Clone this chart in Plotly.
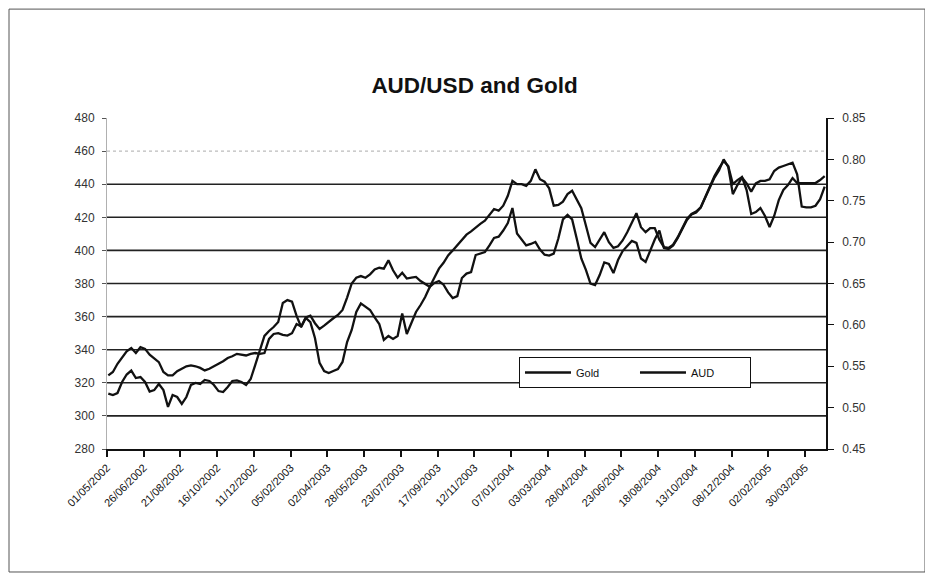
import plotly.graph_objects as go
import pandas as pd

# weekly closes (first week ending 03/05/2002)
gold = [
    313.5, 312.6, 313.8, 320.5, 325.0, 327.4, 322.9, 323.5, 320.5, 314.7,
    315.6, 319.3, 315.6, 305.4, 312.6, 311.4, 307.2, 311.4, 318.7, 319.9,
    319.3, 321.7, 321.1, 318.7, 315.0, 314.4, 317.5, 321.1, 321.4, 320.5,
    318.7, 322.3, 330.8, 339.8, 348.3, 351.3, 353.7, 356.7, 368.2, 370.0,
    369.1, 360.4, 353.7, 359.2, 356.7, 347.1, 332.0, 327.1, 325.9, 327.1,
    328.3, 332.6, 344.6, 351.9, 362.8, 368.0, 366.0, 364.0, 359.5, 355.5,
    345.9, 348.3, 346.5, 348.3, 361.9, 349.5, 356.1, 362.8, 367.0, 371.8,
    377.9, 380.3, 381.5, 379.3, 374.6, 371.2, 372.4, 383.3, 386.0, 386.9,
    397.2, 398.2, 399.0, 403.0, 407.5, 408.3, 412.0, 416.5, 425.6, 410.2,
    406.6, 403.0, 403.9, 405.1, 400.5, 397.4, 396.9, 398.1, 407.2, 418.7,
    421.4, 418.7, 407.2, 395.1, 388.2, 380.0, 379.1, 385.1, 392.7, 391.8,
    386.3, 394.2, 399.6, 403.0, 405.7, 404.5, 395.1, 393.0, 399.6, 406.6,
    412.0, 401.4, 400.8, 403.0, 407.5, 412.6, 418.4, 421.7, 422.9, 425.9,
    432.3, 439.5, 444.9, 449.8, 454.0, 451.0, 440.1, 442.5, 444.3, 436.5,
    422.0, 423.2, 425.6, 420.8, 414.1, 420.8, 430.4, 436.5, 439.5, 443.7,
    440.7, 440.7, 440.7, 440.7, 440.7, 442.5, 444.9,
]

aud = [
    0.539, 0.543, 0.553, 0.561, 0.568, 0.572, 0.566, 0.573, 0.571, 0.564,
    0.560, 0.555, 0.543, 0.539, 0.539, 0.544, 0.547, 0.550, 0.551, 0.550,
    0.548, 0.545, 0.547, 0.550, 0.552, 0.556, 0.560, 0.562, 0.565, 0.564,
    0.563, 0.565, 0.566, 0.565, 0.566, 0.583, 0.589, 0.590, 0.588, 0.587,
    0.590, 0.601, 0.598, 0.609, 0.611, 0.602, 0.595, 0.599, 0.604, 0.608,
    0.612, 0.618, 0.633, 0.650, 0.657, 0.659, 0.657, 0.661, 0.667, 0.669,
    0.668, 0.678, 0.666, 0.657, 0.663, 0.656, 0.657, 0.658, 0.653, 0.650,
    0.646, 0.657, 0.668, 0.675, 0.684, 0.690, 0.696, 0.703, 0.709, 0.713,
    0.718, 0.722, 0.726, 0.733, 0.740, 0.738, 0.744, 0.756, 0.774, 0.770,
    0.770, 0.768, 0.774, 0.788, 0.776, 0.773, 0.765, 0.744, 0.745, 0.749,
    0.758, 0.762, 0.751, 0.741, 0.720, 0.699, 0.694, 0.703, 0.712, 0.700,
    0.693, 0.695, 0.702, 0.712, 0.724, 0.735, 0.718, 0.712, 0.717, 0.717,
    0.703, 0.694, 0.693, 0.697, 0.706, 0.717, 0.728, 0.734, 0.737, 0.742,
    0.754, 0.768, 0.778, 0.787, 0.800, 0.791, 0.758, 0.769, 0.778, 0.771,
    0.761, 0.771, 0.774, 0.774, 0.776, 0.786, 0.790, 0.792, 0.794, 0.796,
    0.782, 0.743, 0.742, 0.742, 0.744, 0.752, 0.767,
]

dates = pd.date_range('2002-05-03', periods=len(gold), freq='7D')

tick_dates = [
    '2002-05-01', '2002-06-26', '2002-08-21', '2002-10-16', '2002-12-11',
    '2003-02-05', '2003-04-02', '2003-05-28', '2003-07-23', '2003-09-17',
    '2003-11-12', '2004-01-07', '2004-03-03', '2004-04-28', '2004-06-23',
    '2004-08-18', '2004-10-13', '2004-12-08', '2005-02-02', '2005-03-30',
]
tick_labels = [pd.Timestamp(d).strftime('%d/%m/%Y') for d in tick_dates]

gold_ticks = [280, 300, 320, 340, 360, 380, 400, 420, 440, 460, 480]
aud_ticks = [0.45, 0.50, 0.55, 0.60, 0.65, 0.70, 0.75, 0.80, 0.85]

FONT = 'Liberation Sans, Arial, sans-serif'

fig = go.Figure()
fig.add_trace(go.Scatter(x=dates, y=gold, name='Gold', mode='lines',
                         line=dict(color='#111111', width=2.3)))
fig.add_trace(go.Scatter(x=dates, y=aud, name='AUD', mode='lines', yaxis='y2',
                         line=dict(color='#111111', width=2.3)))

# horizontal grid lines, drawn like the scanned original
shapes = []
for v in gold_ticks[1:-2]:
    shapes.append(dict(type='line', xref='paper', x0=0, x1=1, yref='y', y0=v, y1=v,
                       line=dict(color='#222222', width=1.6), layer='below'))
shapes.append(dict(type='line', xref='paper', x0=0, x1=1, yref='y', y0=460, y1=460,
                   line=dict(color='#aaaaaa', width=1, dash='dot'), layer='below'))
# outer frame of the chart
shapes.append(dict(type='rect', xref='paper', yref='paper',
                   x0=-0.1363, x1=1.1377, y0=-0.3716, y1=1.329,
                   line=dict(color='#555555', width=1)))

fig.update_layout(
    width=933, height=575,
    margin=dict(l=99, r=115, t=110, b=134),
    paper_bgcolor='white', plot_bgcolor='white',
    font=dict(family=FONT, color='#222222'),
    title=dict(text='AUD/USD and Gold', x=0.5, xanchor='center',
               y=1 - 77 / 575, yref='container', yanchor='middle',
               font=dict(size=22.5, family=FONT, color='#111111', weight='bold')),
    xaxis=dict(type='date', range=['2002-05-01', '2005-05-01'],
               tickvals=tick_dates, ticktext=tick_labels, tickangle=-45,
               tickfont=dict(size=11, color='#111111'),
               showgrid=False, zeroline=False,
               showline=True, linecolor='#111111', linewidth=2,
               ticks='outside', ticklen=6, tickcolor='#111111', tickwidth=1.5),
    yaxis=dict(range=[280, 480], tickvals=gold_ticks,
               tickfont=dict(size=12, color='#333333'),
               showgrid=False, zeroline=False,
               showline=True, linecolor='#b0b0b0', linewidth=1,
               ticks='outside', ticklen=4, tickcolor='#555555',
               ticklabelstandoff=5),
    yaxis2=dict(range=[0.45, 0.85], tickvals=aud_ticks, tickformat='.2f',
                overlaying='y', side='right',
                tickfont=dict(size=12, color='#333333'),
                showgrid=False, zeroline=False,
                showline=True, linecolor='#111111', linewidth=1.5,
                ticks='outside', ticklen=6, tickcolor='#111111',
                ticklabelstandoff=6),
    legend=dict(orientation='h', x=0.573, y=0.278, xanchor='left', yanchor='top',
                bgcolor='white', bordercolor='#111111', borderwidth=1,
                font=dict(size=11, color='#111111'),
                itemwidth=46, entrywidth=54, entrywidthmode='pixels'),
    shapes=shapes,
)

fig.write_html("out.html")
